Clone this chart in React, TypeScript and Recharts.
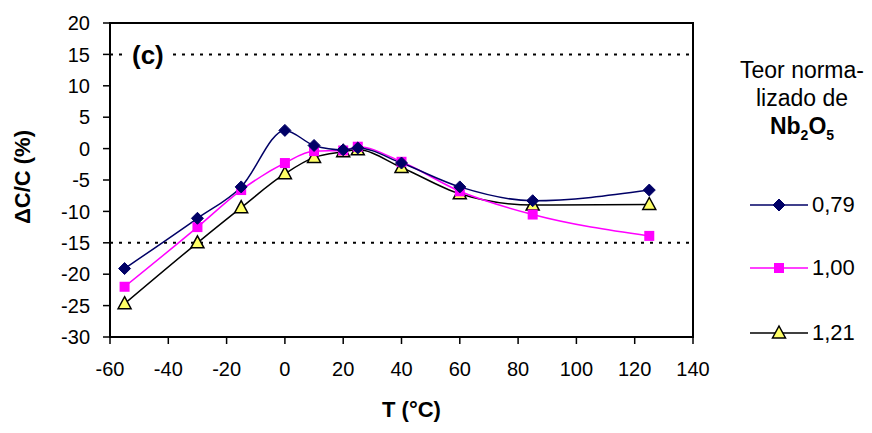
import { LineChart, Line, XAxis, YAxis, ReferenceLine, ReferenceArea, Label } from 'recharts';

const temps = [-55, -30, -15, 0, 10, 20, 25, 40, 60, 85, 125];
const s079 = [-19.1, -11.1, -6.1, 2.9, 0.5, -0.2, 0.1, -2.3, -6.1, -8.3, -6.6];
const s100 = [-22.0, -12.5, -6.6, -2.3, -0.4, -0.3, 0.3, -2.1, -6.8, -10.5, -13.9];
const s121 = [-24.7, -15.0, -9.4, -4.0, -1.4, -0.5, -0.2, -3.0, -7.2, -9.0, -8.9];
const xTicks = [-60, -40, -20, 0, 20, 40, 60, 80, 100, 120, 140];
const yTicks = [-30, -25, -20, -15, -10, -5, 0, 5, 10, 15, 20];

const data = temps.map((t, i) => ({ t, a: s079[i], b: s100[i], c: s121[i] }));

const NAVY = '#000066';
const MAGENTA = '#ff00ff';
const YELLOW = '#ffff66';
const FONT = '"Liberation Sans", Arial, sans-serif';

type Shape = 'diamond' | 'square' | 'triangle';

const marker = (shape: Shape, cx: number, cy: number, key?: string) => {
  if (shape === 'diamond') {
    return <path key={key} d={`M${cx},${cy - 6}L${cx + 6},${cy}L${cx},${cy + 6}L${cx - 6},${cy}Z`} fill={NAVY} stroke={NAVY} />;
  }
  if (shape === 'square') {
    return <rect key={key} x={cx - 5} y={cy - 5} width={10} height={10} fill={MAGENTA} />;
  }
  return <path key={key} d={`M${cx},${cy - 7}L${cx + 6.5},${cy + 5}L${cx - 6.5},${cy + 5}Z`} fill={YELLOW} stroke="#000" strokeWidth={1.5} />;
};

const dot = (shape: Shape) => (p: any) => marker(shape, p.cx, p.cy, `${shape}-${p.index}`);

const legendItems: { label: string; shape: Shape; color: string }[] = [
  { label: '0,79', shape: 'diamond', color: NAVY },
  { label: '1,00', shape: 'square', color: MAGENTA },
  { label: '1,21', shape: 'triangle', color: '#000' },
];
const legendRows = [205, 268, 333];

export default function App() {
  return (
    <div style={{ position: 'absolute', left: 0, top: 0, width: 872, height: 433, background: '#fff', fontFamily: FONT }}>
      <LineChart width={872} height={433} data={data} margin={{ top: 23, right: 179, left: 0, bottom: 0 }} style={{ fontFamily: FONT }}>
        <XAxis
          dataKey="t"
          type="number"
          domain={[-60, 140]}
          ticks={xTicks}
          height={96}
          tick={{ fill: '#000', fontSize: 20 }}
          tickSize={7}
          tickMargin={18}
          axisLine={{ stroke: '#000', strokeWidth: 2 }}
          tickLine={{ stroke: '#000', strokeWidth: 1.5 }}
        >
          <Label
            content={(p: any) => {
              const vb = p.viewBox;
              return (
                <text x={vb.x + vb.width / 2 + 10} y={vb.y + 80} textAnchor="middle" fontSize={22} fontWeight="bold" fill="#000">
                  T (°C)
                </text>
              );
            }}
          />
        </XAxis>
        <YAxis
          type="number"
          domain={[-30, 20]}
          ticks={yTicks}
          width={110}
          tick={{ fill: '#000', fontSize: 20 }}
          tickSize={7}
          tickMargin={13}
          axisLine={{ stroke: '#000', strokeWidth: 2 }}
          tickLine={{ stroke: '#000', strokeWidth: 1.5 }}
        >
          <Label
            content={(p: any) => {
              const vb = p.viewBox;
              const x = vb.x + 30;
              const y = vb.y + vb.height / 2 - 3;
              return (
                <text x={x} y={y} transform={`rotate(-90 ${x} ${y})`} textAnchor="middle" fontSize={22} fontWeight="bold" fill="#000">
                  ΔC/C (%)
                </text>
              );
            }}
          />
        </YAxis>
        <ReferenceArea x1={-60} x2={140} y1={-30} y2={20} fill="none" stroke="#000" strokeWidth={2} />
        <ReferenceLine y={15} stroke="#000" strokeWidth={2} strokeDasharray="3 6" />
        <ReferenceLine y={-15} stroke="#000" strokeWidth={2} strokeDasharray="3 6" />
        <Line dataKey="c" type="monotone" stroke="#000" strokeWidth={1.5} dot={dot('triangle')} isAnimationActive={false} />
        <Line dataKey="b" type="monotone" stroke={MAGENTA} strokeWidth={1.5} dot={dot('square')} isAnimationActive={false} />
        <Line dataKey="a" type="monotone" stroke={NAVY} strokeWidth={1.5} dot={dot('diamond')} isAnimationActive={false} />
      </LineChart>
      <div
        style={{
          position: 'absolute',
          left: 126,
          top: 40,
          padding: '0 6px',
          background: '#fff',
          fontSize: 26,
          fontWeight: 'bold',
          lineHeight: '30px',
        }}
      >
        (c)
      </div>
      <div style={{ position: 'absolute', left: 722, top: 56, width: 160, textAlign: 'center', fontSize: 23, lineHeight: '28px' }}>
        <div>Teor norma-</div>
        <div>lizado de</div>
        <div style={{ fontWeight: 'bold' }}>
          Nb<sub style={{ fontSize: 14 }}>2</sub>O<sub style={{ fontSize: 14 }}>5</sub>
        </div>
      </div>
      {legendItems.map((it, i) => (
        <div key={it.label} style={{ position: 'absolute', left: 748, top: legendRows[i] - 14, height: 28, display: 'flex', alignItems: 'center', fontSize: 22 }}>
          <svg width={62} height={20}>
            <line x1={2} y1={10} x2={60} y2={10} stroke={it.color} strokeWidth={1.5} />
            {marker(it.shape, 31, 10)}
          </svg>
          <span style={{ marginLeft: 2 }}>{it.label}</span>
        </div>
      ))}
    </div>
  );
}
